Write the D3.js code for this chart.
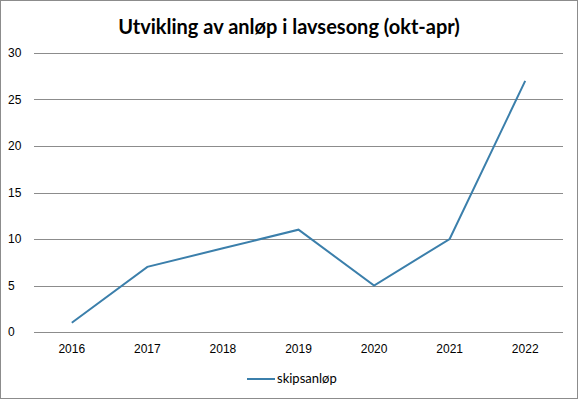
<!DOCTYPE html>
<html>
<head>
<meta charset="utf-8">
<script src="https://cdn.jsdelivr.net/npm/d3@7"></script>
<style>
  body { margin: 0; background: #fff; }
  svg { font-family: Lato, "Open Sans", sans-serif; }
  .axis path, .axis line { display: none; }
  .axis text { font-size: 12px; fill: #000; }
  .grid line { stroke: #8c8c8c; stroke-width: 1; }
</style>
</head>
<body>
<div id="chart"></div>
<script>
let years = ["2016", "2017", "2018", "2019", "2020", "2021", "2022"];
let anlop = [1, 7, 9, 11, 5, 10, 27];
let yTicks = [0, 5, 10, 15, 20, 25, 30];
let seriesName = "skipsanløp";
let title = "Utvikling av anløp i lavsesong (okt-apr)";

let W = 578, H = 399;
let margin = {top: 53, right: 15, bottom: 67, left: 34};
let width = W - margin.left - margin.right,
    height = H - margin.top - margin.bottom;

let svg = d3.select("#chart").append("svg")
    .attr("width", W)
    .attr("height", H);

// outer border
svg.append("rect")
    .attr("x", 0.5).attr("y", 0.5)
    .attr("width", W - 1).attr("height", H - 1)
    .attr("fill", "#fff")
    .attr("stroke", "#8c8c8c");

svg.append("text")
    .attr("x", W / 2)
    .attr("y", 34)
    .attr("text-anchor", "middle")
    .style("font-size", "20px")
    .style("font-weight", "bold")
    .text(title);

let g = svg.append("g")
    .attr("transform", "translate(" + margin.left + "," + margin.top + ")");

let x = d3.scaleBand()
    .domain(years)
    .range([0, width]);

let y = d3.scaleLinear()
    .domain([0, 30])
    .range([height, 0]);

// gridlines
g.append("g")
    .attr("class", "grid")
    .selectAll("line")
    .data(yTicks)
    .enter().append("line")
    .attr("x1", 0)
    .attr("x2", width)
    .attr("y1", d => Math.round(y(d)) + 0.5)
    .attr("y2", d => Math.round(y(d)) + 0.5);

let yAxis = d3.axisLeft(y).tickValues(yTicks).tickSize(0).tickPadding(20);
g.append("g")
    .attr("class", "y-axis axis")
    .call(yAxis)
    .selectAll("text")
    .attr("text-anchor", "start")
    .attr("x", -26);

let xAxis = d3.axisBottom(x).tickSize(0).tickPadding(12);
g.append("g")
    .attr("class", "x-axis axis")
    .attr("transform", "translate(0," + height + ")")
    .call(xAxis);

let line = d3.line()
    .x((d, i) => x(years[i]) + x.bandwidth() / 2)
    .y(d => y(d));

g.append("path")
    .datum(anlop)
    .attr("fill", "none")
    .attr("stroke", "#3b7fab")
    .attr("stroke-width", 2)
    .attr("d", line);

// legend
let legend = svg.append("g")
    .attr("transform", "translate(247,379)");
legend.append("line")
    .attr("x1", 0).attr("x2", 28)
    .attr("y1", 0).attr("y2", 0)
    .attr("stroke", "#3b7fab")
    .attr("stroke-width", 2);
legend.append("text")
    .attr("x", 30)
    .attr("y", 4)
    .style("font-size", "13px")
    .text(seriesName);
</script>
</body>
</html>
